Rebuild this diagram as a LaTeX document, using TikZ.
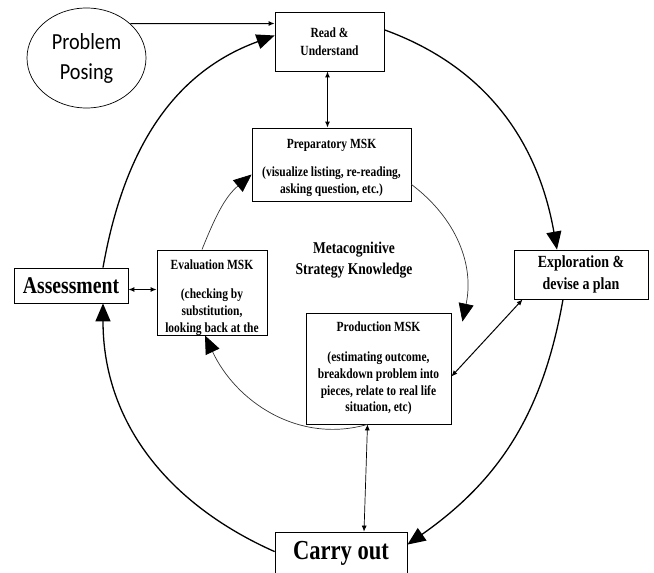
\documentclass[tikz,border=0pt]{standalone}
\usepackage{fontspec}
\setmainfont{Liberation Serif}[FakeStretch=0.82]
\newfontfamily\calibri{Carlito}[FakeStretch=0.88]
\usetikzlibrary{arrows.meta,shapes.geometric,calc}
\begin{document}
\begin{tikzpicture}[x=1pt,y=1pt,
  box/.style={draw, line width=0.8pt, inner sep=0pt, align=center, font=\bfseries\fontsize{14}{16.7}\selectfont},
  outer/.style={line width=1.3pt, -{Triangle[length=18pt,width=15pt]}},
  inner/.style={line width=0.7pt, draw=black!80, -{Triangle[length=18pt,width=15pt,color=black]}},
  dbl/.style={line width=1pt, {Latex[length=6pt,width=5pt]}-{Latex[length=6pt,width=5pt]}},
]
\useasboundingbox (0,0) rectangle (654,573);
\clip (0,0) rectangle (654,573);

\node[draw, ellipse, line width=0.7pt, minimum width=119pt, minimum height=100pt, inner sep=0pt, align=center, font=\calibri\fontsize{23}{30}\selectfont] (pp) at (86.5,515) {Problem\\Posing};

\node[box, font=\bfseries\fontsize{14}{18.5}\selectfont, minimum width=109pt, minimum height=59pt] (read) at (329.5,531.5) {Read \&\\Understand};
\node[box, minimum width=159pt, minimum height=73pt] (prep) at (331.5,408.5) {\rule{0pt}{16pt}Preparatory MSK\\[11pt](visualize listing, re-reading,\\asking question, etc.)};
\node[box, minimum width=110pt, minimum height=85pt] (eval) at (212,280.5) {\rule{0pt}{20pt}Evaluation MSK\\[12pt](checking by\\substitution,\\looking back at the};
\node[box, minimum width=145pt, minimum height=111pt] (prod) at (378.5,204.5) {Production MSK\\[13pt](estimating outcome,\\breakdown problem into\\pieces, relate to real life\\situation, etc)};
\node[box, font=\bfseries\fontsize{24}{28}\selectfont, minimum width=114pt, minimum height=35pt] (assess) at (71,287.5) {Assessment};
\node[box, font=\bfseries\fontsize{17}{22}\selectfont, minimum width=134pt, minimum height=49pt] (expl) at (581,298.5) {Exploration \&\\devise a plan};
\node[box, font=\bfseries\fontsize{27.5}{30}\selectfont, anchor=base, text height=28pt, text depth=20pt, minimum width=132pt] (carry) at (341,13) {Carry out};
\node[font=\bfseries\fontsize{16.5}{21.7}\selectfont, align=center] (meta) at (354,313) {Metacognitive\\Strategy Knowledge};

% outer cycle
\draw[outer] (read.12) to[out=-20,in=100] ($(expl.north)+(-24,0)$);
\draw[outer] ($(expl.south)+(-18,0)$) to[out=-100,in=35] ($(carry.north east)+(0,-13)$);
\draw[outer] ($(carry.north west)+(0,-20)$) to[out=156,in=-90] ($(assess.south)+(32,0)$);
\draw[outer] ($(assess.north)+(32,0)$) to[out=80,in=200] ($(read.west)+(0,6)$);

% inner cycle
\draw[inner] (prep.-14) to[out=-37,in=78] ($(prod.north east)+(11,-9)$);
\draw[inner] ($(prod.south)+(-11,0)$) to[out=196,in=-65] ($(eval.south)+(-7,0)$);
\draw[inner] ($(eval.north)+(-10,0)$) to[out=68,in=220] ($(prep.west)+(0,-10)$);

% straight links
\draw[line width=1pt, -{Latex[length=6pt,width=5pt]}] (pp.38) -- ($(read.west)+(0,18)$);
\draw[dbl] ($(read.south)+(-2,0)$) -- ($(prep.north)+(-4,0)$);
\draw[dbl] ($(assess.east)+(0,-4)$) -- ($(eval.west)+(0,3)$);
\draw[dbl] ($(expl.south west)+(9,0)$) -- ($(prod.east)+(0,-8)$);
\draw[dbl, line width=0.7pt] ($(prod.south)+(-11,0)$) -- ($(carry.north)+(23,0)$);
\end{tikzpicture}
\end{document}
